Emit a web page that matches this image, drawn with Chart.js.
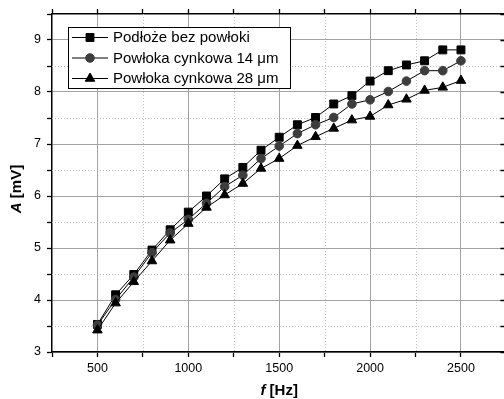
<!DOCTYPE html>
<html><head><meta charset="utf-8">
<script src="https://cdn.jsdelivr.net/npm/chart.js@4/dist/chart.umd.min.js"></script>
<style>
html,body{margin:0;padding:0;overflow:hidden;background:#fff;width:504px;height:399px}
#wrap{width:513px;height:399px;position:relative}
</style>
</head><body><div id="wrap"><canvas id="c" width="513" height="399"></canvas></div>
<script>
// ---- data ----
const freqs = [500,600,700,800,900,1000,1100,1200,1300,1400,1500,1600,1700,1800,1900,2000,2100,2200,2300,2400,2500];
const seriesLabels = ['Podłoże bez powłoki','Powłoka cynkowa 14 μm','Powłoka cynkowa 28 μm'];
const substrate = [3.53,4.10,4.49,4.96,5.35,5.69,6.00,6.33,6.55,6.88,7.13,7.37,7.51,7.77,7.93,8.21,8.41,8.52,8.60,8.81,8.81];
const zinc14    = [3.52,4.01,4.44,4.91,5.29,5.55,5.86,6.18,6.40,6.72,6.96,7.20,7.37,7.51,7.77,7.85,8.01,8.21,8.41,8.41,8.60];
const zinc28    = [3.42,3.94,4.35,4.75,5.15,5.47,5.78,6.02,6.24,6.53,6.72,6.97,7.14,7.30,7.46,7.53,7.75,7.86,8.03,8.09,8.22];
const xMajorTicks = [500,1000,1500,2000,2500];
const xMinorTicks = [250,750,1250,1750,2250,2750];
const yMajorTicks = [3,4,5,6,7,8,9];
const yMinorTicks = [3.5,4.5,5.5,6.5,7.5,8.5,9.5];
const xTitle = ['f', ' [Hz]'];
const yTitle = ['A', ' [mV]'];

const FONT = "'Liberation Sans', Arial, sans-serif";
const toPts = arr => freqs.map((f,i)=>({x:f,y:arr[i]}));
const allX = [...xMajorTicks, ...xMinorTicks].sort((a,b)=>a-b);
const allY = [...yMajorTicks, ...yMinorTicks].sort((a,b)=>a-b);
const isMajorX = v => xMajorTicks.includes(v);
const isMajorY = v => yMajorTicks.includes(v);

const styles = [
  {pointStyle:'rect', radius:5.6, color:'#000'},
  {pointStyle:'circle', radius:4.3, color:'#3d3d3d'},
  {pointStyle:'triangle', radius:5.5, color:'#000'}
];
const values = [substrate, zinc14, zinc28];

const datasets = values.map((v,i)=>({
  label: seriesLabels[i],
  data: toPts(v),
  showLine: true,
  borderColor:'#000',
  borderWidth:1,
  pointStyle: styles[i].pointStyle,
  pointRadius: styles[i].radius,
  pointBackgroundColor: styles[i].color,
  pointBorderColor: styles[i].color,
  pointBorderWidth: 1,
  order: 2 - i
}));

const minorPlugin = {
  id:'minorGrid',
  beforeDatasetsDraw(chart){
    const {ctx, chartArea:a, scales} = chart;
    ctx.save();
    ctx.strokeStyle = '#bdbdbd';
    ctx.lineWidth = 1;
    ctx.setLineDash([1,2]);
    xMinorTicks.forEach(v=>{
      const px = Math.round(scales.x.getPixelForValue(v))+0.5;
      if (px < a.left+1 || px > a.right-1) return;
      ctx.beginPath(); ctx.moveTo(px,a.top); ctx.lineTo(px,a.bottom); ctx.stroke();
    });
    yMinorTicks.forEach(v=>{
      const py = Math.round(scales.y.getPixelForValue(v))+0.5;
      if (py < a.top+1 || py > a.bottom-1) return;
      ctx.beginPath(); ctx.moveTo(a.left,py); ctx.lineTo(a.right,py); ctx.stroke();
    });
    ctx.restore();
  },
  afterDraw(chart){
    const {ctx, chartArea:a} = chart;
    ctx.save();
    ctx.fillStyle = '#000';
    ctx.textBaseline = 'middle';
    const drawParts = (parts, cx, cy) => {
      ctx.font = "italic bold 15px " + FONT;
      const w0 = ctx.measureText(parts[0]).width;
      ctx.font = "bold 15px " + FONT;
      const w1 = ctx.measureText(parts[1]).width;
      let x0 = cx - (w0+w1)/2;
      ctx.textAlign = 'left';
      ctx.font = "italic bold 15px " + FONT;
      ctx.fillText(parts[0], x0, cy);
      ctx.font = "bold 15px " + FONT;
      ctx.fillText(parts[1], x0 + w0, cy);
    };
    drawParts(xTitle, (a.left+a.right)/2, 391);
    ctx.save();
    ctx.translate(17, (a.top+a.bottom)/2 + 6);
    ctx.rotate(-Math.PI/2);
    drawParts(yTitle, 0, 0);
    ctx.restore();

    // legend
    const lx = a.left + 16, ly = a.top + 13, lw = 222, lh = 61, rowH = 20.5;
    ctx.fillStyle = '#fff';
    ctx.fillRect(lx, ly, lw, lh);
    ctx.strokeStyle = '#000';
    ctx.lineWidth = 1;
    ctx.setLineDash([]);
    ctx.strokeRect(lx+0.5, ly+0.5, lw, lh);
    chart.data.datasets.forEach((ds,i)=>{
      const cy = ly + 10 + i*rowH;
      ctx.strokeStyle = '#000';
      ctx.lineWidth = 1;
      ctx.beginPath(); ctx.moveTo(lx+4, cy+0.5); ctx.lineTo(lx+40, cy+0.5); ctx.stroke();
      ctx.fillStyle = ds.pointBackgroundColor;
      ctx.strokeStyle = ds.pointBorderColor;
      Chart.helpers.drawPoint(ctx, {pointStyle: ds.pointStyle, radius: ds.pointRadius, rotation:0, borderWidth:1}, lx+22, cy+0.5);
      ctx.fillStyle = '#000';
      ctx.font = "15px " + FONT;
      ctx.textAlign = 'left';
      ctx.textBaseline = 'middle';
      ctx.fillText(ds.label, lx + 45, cy + 1);
    });

    // inward ticks on right axis
    ctx.strokeStyle = '#000';
    ctx.lineWidth = 1.5;
    allY.forEach(v=>{
      const py = Math.round(chart.scales.y.getPixelForValue(v))+0.5;
      ctx.beginPath(); ctx.moveTo(a.right-6, py); ctx.lineTo(a.right, py); ctx.stroke();
    });
    ctx.restore();
  }
};

const gridCommon = (isMajor) => ({
  color: c => (c.tick && isMajor(c.tick.value)) ? '#a3a3a3' : 'rgba(0,0,0,0)',
  tickColor: '#000',
  tickLength: 5,
  tickWidth: 1.3,
  lineWidth: 1
});

new Chart(document.getElementById('c'), {
  type:'scatter',
  data:{datasets},
  options:{
    responsive:false,
    animation:false,
    events:[],
    layout:{padding:0},
    plugins:{legend:{display:false}, tooltip:{enabled:false}},
    scales:{
      x:{
        type:'linear', position:'bottom', min:250, max:2750,
        afterBuildTicks: s => { s.ticks = allX.map(v=>({value:v})); },
        afterFit: s => { s.height = 47; },
        ticks:{autoSkip:false, maxRotation:0, padding:4, color:'#000',
          font:{family:FONT, size:12.5},
          callback: v => isMajorX(v) ? String(v) : ''},
        grid: gridCommon(isMajorX),
        border:{color:'#000', width:1.5},
        title:{display:false}
      },
      xTop:{
        type:'linear', position:'top', min:250, max:2750,
        afterBuildTicks: s => { s.ticks = allX.map(v=>({value:v})); },
        afterFit: s => { s.height = 14; },
        ticks:{display:false},
        grid:{drawOnChartArea:false, tickColor:'#000', tickLength:5, tickWidth:1.3},
        border:{color:'#000', width:1.5}
      },
      y:{
        type:'linear', position:'left', min:3, max:9.5,
        afterBuildTicks: s => { s.ticks = allY.map(v=>({value:v})); },
        afterFit: s => { s.width = 52; },
        ticks:{autoSkip:false, padding:6, color:'#000',
          font:{family:FONT, size:12.5},
          callback: v => isMajorY(v) ? String(v) : ''},
        grid: gridCommon(isMajorY),
        border:{color:'#000', width:1.5}
      },
      yRight:{
        type:'linear', position:'right', min:3, max:9.5,
        afterFit: s => { s.width = 4; },
        ticks:{display:false},
        grid:{drawOnChartArea:false, drawTicks:false},
        border:{color:'#000', width:1.5}
      }
    }
  },
  plugins:[minorPlugin]
});
</script>
</body></html>
